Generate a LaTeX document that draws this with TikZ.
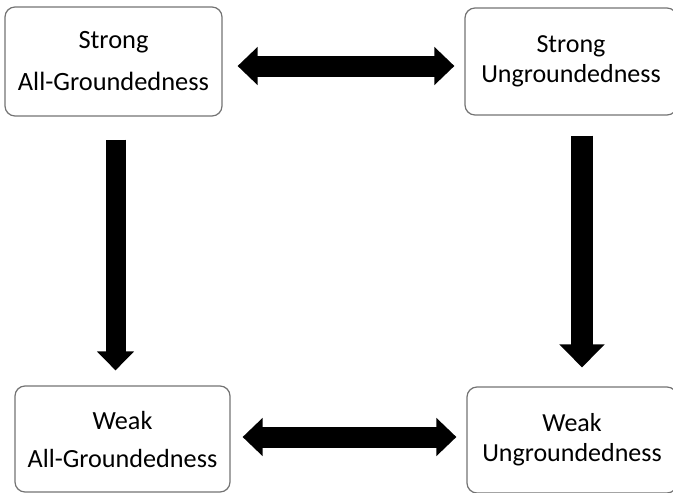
\documentclass[tikz,border=0pt]{standalone}
\usepackage{fontspec}
\setmainfont{Carlito}
\usetikzlibrary{arrows.meta}

\tikzset{
    box/.style = {draw=black!55, line width=1.2pt, rounded corners=10pt, align=center, inner sep=0pt},
    fatarrow/.style = {line width=20pt, -{Triangle[width=36pt,length=19pt]}},
    fatboth/.style = {line width=21pt, {Triangle[width=37pt,length=20pt]}-{Triangle[width=37pt,length=20pt]}}
}

\begin{document}
\begin{tikzpicture}[x=1pt, y=-1pt]
        \useasboundingbox (0,0) rectangle (673,493);
        \clip (0,0) rectangle (673,493);

        \node[box, minimum width=217pt, minimum height=109pt, font=\fontsize{26.4}{42}\selectfont] (sag) at (113.5,61.5) {Strong\\All-Groundedness};
        \node[box, minimum width=212pt, minimum height=107pt, font=\fontsize{26}{30}\selectfont] (sug) at (571,61.5) {Strong\\Ungroundedness};
        \node[box, minimum width=215pt, minimum height=106pt, font=\fontsize{26.2}{38}\selectfont] (wag) at (122.5,439) {Weak\\All-Groundedness};
        \node[box, minimum width=210pt, minimum height=106pt, font=\fontsize{26}{30}\selectfont] (wug) at (572,440) {Weak\\Ungroundedness};

        \draw[fatboth, shorten <=15pt, shorten >=10pt] ([yshift=-4.5pt]sag.east) -- ([yshift=-4.5pt]sag.east -| sug.west);
        \draw[fatboth, shorten <=12pt, shorten >=10pt] ([yshift=2pt]wag.east) -- ([yshift=2pt]wag.east -| wug.west);
        \draw[fatarrow, shorten <=23pt, shorten >=15pt] ([xshift=2pt]sag.south) -- ([xshift=2pt]sag.south |- wag.north);
        \draw[fatarrow, line width=22pt, -{Triangle[width=44pt,length=23pt]}, shorten <=20pt, shorten >=19pt] ([xshift=11pt]sug.south) -- ([xshift=11pt]sug.south |- wug.north);
\end{tikzpicture}
\end{document}
